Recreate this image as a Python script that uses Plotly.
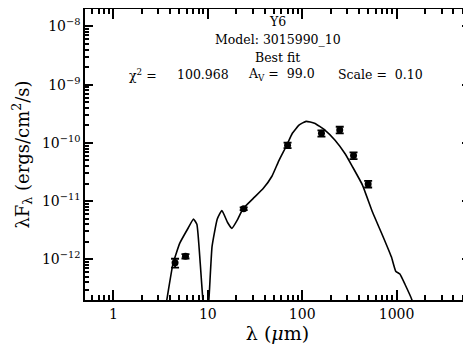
"""
SED fit plot for source Y6
"""
from plotly.graph_objects import Scatter, Figure

# observed photometry (microns, ergs/cm^2/s)
obs_wav = [4.5, 5.8, 24, 70, 160, 250, 350, 500]
obs_flux = [8.7e-13, 1.13e-12, 7.4e-12, 9.1e-11, 1.46e-10, 1.67e-10, 6.05e-11, 1.97e-11]
obs_err = [1.5e-13, 1.0e-13, 4e-13, 1.0e-11, 1.8e-11, 2.2e-11, 8e-12, 2.6e-12]

# best fit model curve
mod_wav = [3.6, 3.71, 4.28, 5.05, 6.22, 7.05, 7.66, 8.32, 8.83, 9.05, 10.05,
           10.3, 11.1, 12.6, 14.1, 16.2, 18.0, 20.8, 23.6, 30.3, 38.8, 47.8,
           56.5, 68.4, 78.7, 93.1, 110, 135, 174, 223, 286, 338, 434, 557,
           716, 881, 979, 1084, 1227, 1452, 1490]
mod_flux = [1.6e-13, 2.17e-13, 8.4e-13, 1.89e-12, 3.48e-12, 4.91e-12, 4.0e-12,
            8.4e-13, 2.17e-13, 1.6e-13, 1.6e-13,
            2.17e-13, 1.66e-12, 4.91e-12, 6.87e-12, 4.28e-12, 3.40e-12, 4.91e-12,
            7.36e-12, 1.11e-11, 1.66e-11, 2.67e-11, 4.91e-11, 9.0e-11, 1.46e-10,
            2.04e-10, 2.34e-10, 2.18e-10, 1.66e-10, 1.11e-10, 6.44e-11, 4.0e-11,
            1.90e-11, 6.41e-12, 2.49e-12, 1.10e-12, 6.24e-13, 5.58e-13, 3.72e-13,
            2.02e-13, 1.7e-13]

x_ticks = [1, 10, 100, 1000]
x_ticktext = ["1", "10", "100", "1000"]
y_ticks = [1e-12, 1e-11, 1e-10, 1e-9, 1e-8]
y_ticktext = ["10<sup>−12</sup>", "10<sup>−11</sup>", "10<sup>−10</sup>",
              "10<sup>−9</sup>", "10<sup>−8</sup>"]
x_minor = [m * d for d in [0.1, 1, 10, 100, 1000] for m in range(2, 10)]
y_minor = [m * d for d in [1e-13, 1e-12, 1e-11, 1e-10, 1e-9, 1e-8] for m in range(2, 10)]

FONT = "DejaVu Serif"
XR = [-0.301, 3.778]
YR = [-12.7, -7.7]

fig = Figure()
# model curve sits on the overlay axes that carry the minor ticks
fig.add_trace(Scatter(x=mod_wav, y=mod_flux, mode="lines", xaxis="x2", yaxis="y2",
                      line=dict(color="black", width=1.6, shape="spline", smoothing=0.4)))
fig.add_trace(Scatter(x=obs_wav, y=obs_flux, mode="markers",
                      marker=dict(color="black", size=7),
                      error_y=dict(type="data", array=obs_err, color="black",
                                   thickness=1.8, width=4)))

axis_common = dict(type="log", showgrid=False, zeroline=False, showline=True,
                   linecolor="black", linewidth=1.5, mirror="allticks",
                   ticks="inside", tickcolor="black", tickwidth=2,
                   automargin=False,
                   tickfont=dict(family=FONT, size=14, color="black"))

fig.update_xaxes(**axis_common, range=XR, tickvals=x_ticks,
                 ticktext=x_ticktext, ticklen=10,
                 title=dict(text="λ (<i>μ</i>m)", standoff=6,
                            font=dict(family=FONT, size=19, color="black")))
fig.update_yaxes(**axis_common, range=YR, tickvals=y_ticks,
                 ticktext=y_ticktext, ticklen=8,
                 title=dict(text="λF<sub>λ</sub> (ergs/cm<sup>2</sup>/s)", standoff=8,
                            font=dict(family=FONT, size=18, color="black")))

# minor ticks on overlay axes
minor_common = dict(type="log", showgrid=False, zeroline=False, showline=False,
                    mirror="allticks", ticks="inside", tickcolor="black",
                    tickwidth=1.6, showticklabels=False, automargin=False)

txt = dict(family=FONT, size=12.5, color="black")
notes = [
    (0.5, 0.956, "Y6", "center"),
    (0.5, 0.894, "Model: 3015990_10", "center"),
    (0.5, 0.835, "Best fit", "center"),
    (0.109, 0.774, "χ<sup>2</sup> =", "left"),
    (0.234, 0.774, "100.968", "left"),
    (0.419, 0.774, "A<sub>V</sub> =  99.0", "left"),
    (0.653, 0.774, "Scale =  0.10", "left"),
]
for x, y, t, anc in notes:
    fig.add_annotation(x=x, y=y, xref="paper", yref="paper", text=t,
                       showarrow=False, xanchor=anc, yanchor="middle", font=txt)

# the page body adds an 8px offset, so the figure is 8px smaller
fig.update_layout(width=463, height=340, showlegend=False,
                  plot_bgcolor="white", paper_bgcolor="white",
                  margin=dict(l=77, r=1, t=1, b=48),
                  xaxis2=dict(**minor_common, overlaying="x", anchor="y2", range=XR,
                              tickvals=x_minor, ticklen=5),
                  yaxis2=dict(**minor_common, overlaying="y", anchor="x2", range=YR,
                              tickvals=y_minor, ticklen=4))

fig.write_html("out.html")
